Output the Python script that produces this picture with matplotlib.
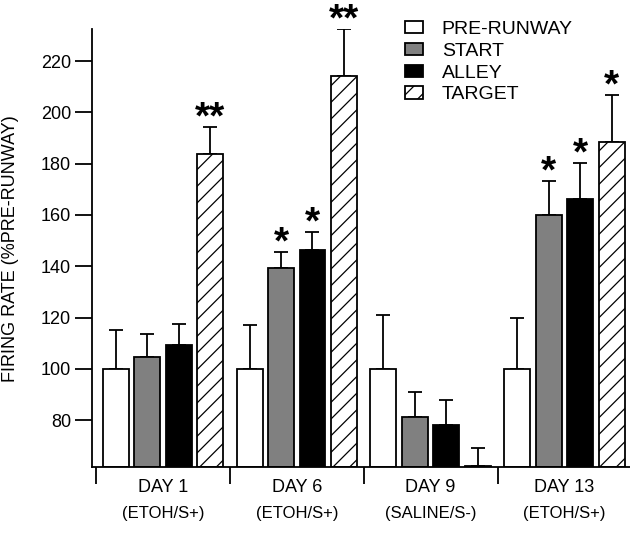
import matplotlib
matplotlib.use("Agg")
import matplotlib.pyplot as plt
import numpy as np

plt.rcParams['font.family'] = ['Liberation Sans', 'DejaVu Sans']
plt.rcParams['hatch.linewidth'] = 0.9

days = ["DAY 1", "DAY 6", "DAY 9", "DAY 13"]
conditions = ["(ETOH/S+)", "(ETOH/S+)", "(SALINE/S-)", "(ETOH/S+)"]
series = ["PRE-RUNWAY", "START", "ALLEY", "TARGET"]

pre_runway = [100, 100, 100, 100]
start = [104.8, 139.3, 81.3, 159.8]
alley = [109.1, 146.3, 78.0, 166.2]
target = [183.6, 214.1, 62.2, 188.4]

pre_runway_err = [15.0, 17.0, 21.1, 19.9]
start_err = [8.6, 6.2, 9.5, 13.4]
alley_err = [8.5, 6.9, 9.8, 14.0]
target_err = [10.7, 18.3, 7.0, 18.2]

stars_pre = ["", "", "", ""]
stars_start = ["", "*", "", "*"]
stars_alley = ["", "*", "", "*"]
stars_target = ["**", "**", "", "*"]

values = [pre_runway, start, alley, target]
errors = [pre_runway_err, start_err, alley_err, target_err]
stars = [stars_pre, stars_start, stars_alley, stars_target]
colors = ["white", "#808080", "black", "white"]
hatches = [None, None, None, "//"]

ymin, ymax = 61.6, 232.4

fig = plt.figure(figsize=(6.3, 5.4), dpi=100)
ax = fig.add_axes([92/630, 1 - 467.3/540, (630-92)/630, (467.3-29.3)/540])

x = np.arange(len(days))
width = 0.194
step = 0.235
for j in range(4):
    pos = x + (j - 1.5) * step
    vals = np.array(values[j])
    errs = np.array(errors[j])
    ax.bar(pos, vals - ymin, bottom=ymin, width=width, color=colors[j],
           edgecolor="black", linewidth=1.3, hatch=hatches[j], label=series[j], zorder=2)
    ax.errorbar(pos, vals, yerr=[np.zeros_like(errs), errs], fmt="none",
                ecolor="black", elinewidth=1.3, capsize=5, capthick=1.3, zorder=1)
    for k in range(4):
        if stars[j][k]:
            ax.annotate(stars[j][k], xy=(pos[k], vals[k] + errs[k]), xytext=(0, -1),
                        textcoords="offset points", ha="center", va="baseline",
                        fontsize=28, fontweight="bold", color="black",
                        annotation_clip=False)

ax.set_xlim(-0.53, 3.49)
ax.set_ylim(ymin, ymax)
ax.set_yticks([80, 100, 120, 140, 160, 180, 200, 220])
ax.tick_params(axis="y", direction="out", length=12, width=1.3, labelsize=13, pad=3)
ax.set_xticks([-0.5, 0.5, 1.5, 2.5])
ax.set_xticklabels([])
ax.tick_params(axis="x", direction="out", length=12, width=1.3)
for i, (d, c) in enumerate(zip(days, conditions)):
    ax.text(i, -0.045, d, transform=ax.get_xaxis_transform(), ha="center", va="center", fontsize=13)
    ax.text(i, -0.105, c, transform=ax.get_xaxis_transform(), ha="center", va="center", fontsize=12)

ax.spines["top"].set_visible(False)
ax.spines["right"].set_visible(False)
ax.spines["left"].set_linewidth(1.3)
ax.spines["bottom"].set_linewidth(1.3)

ax.set_ylabel("FIRING RATE (%PRE-RUNWAY)", fontsize=13)
ax.yaxis.set_label_coords(-0.135, 0.5)

ax.legend(loc="upper left", bbox_to_anchor=(395/630, 1 - 11/540), bbox_transform=fig.transFigure,
          frameon=False, fontsize=14, handlelength=0.95, handleheight=0.6,
          handletextpad=0.95, labelspacing=0.25, borderpad=0)

fig.savefig("out.png", dpi=100)
